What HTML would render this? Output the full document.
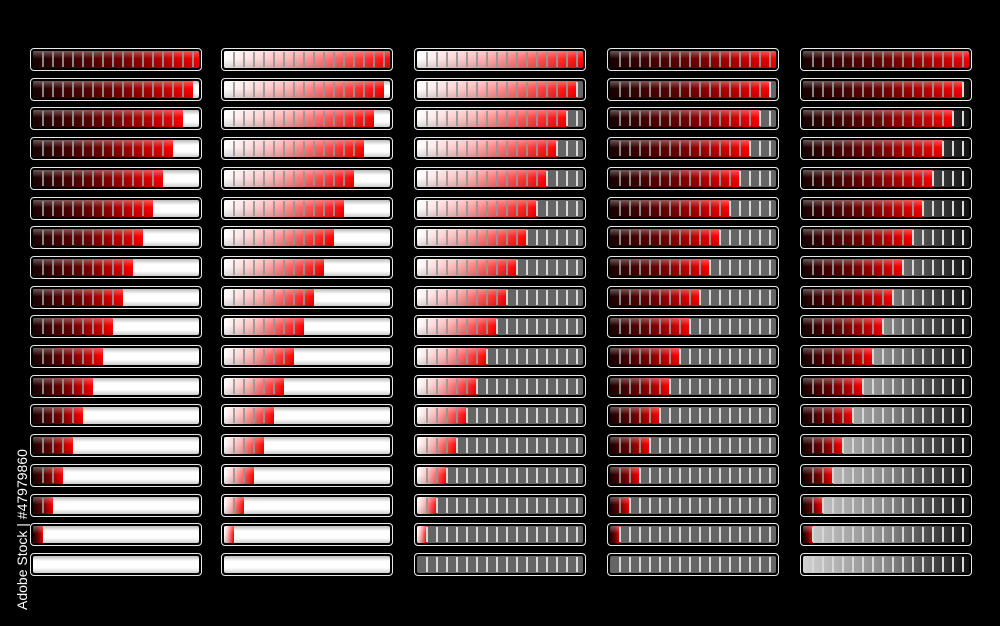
<!DOCTYPE html>
<html><head><style>
html,body{margin:0;padding:0;background:#000;width:1000px;height:626px;overflow:hidden;font-family:"Liberation Sans",sans-serif}
.bar{position:absolute;height:21px;border:1.5px solid #e8e8e8;border-radius:4px;background:#000;box-sizing:content-box}
.in{position:absolute;left:2px;right:2px;top:2px;bottom:2px;border-radius:2px;overflow:hidden}
.fill{position:absolute;left:0;top:0;bottom:0}
.div{position:absolute;top:1px;bottom:1px;width:2px}
.wm{position:absolute;left:14px;color:#fff;font-size:14px;transform:rotate(-90deg);transform-origin:left top;top:610px}
</style></head><body>
<div id="c"></div>
<div class="wm">Adobe Stock | #47979860</div>
<script>
var cols=[30,221,414,607,800];
var c=document.getElementById('c');var h='';
var shade='linear-gradient(180deg,rgba(255,255,255,0.35) 0%,rgba(255,255,255,0) 45%,rgba(0,0,0,0.15) 100%)';
for(var k=0;k<5;k++){
 for(var i=0;i<18;i++){
  var x=cols[k],y=48+i*29.7,n=17-i;
  var empty,fillg;
  if(k<2)empty='linear-gradient(180deg,#bbb,#fff 30%,#fff 70%,#ccc)';
  else if(k<4)empty='#656565';
  else empty='linear-gradient(90deg,#d0d0d0,#888 50%,#111)';
  if(k==1||k==2)fillg='linear-gradient(90deg,#fff,#ffb0b0 40%,#ff0000)';
  else fillg='linear-gradient(90deg,#1a0000,#700000 50%,#ff0000)';
  h+='<div class="bar" style="left:'+x+'px;top:'+y+'px;width:170px"><div class="in" style="background:'+empty+'">';
  if(n>0)h+='<div class="fill" style="width:'+(n*10)+'px;background:'+shade+','+fillg+'"></div>';
  for(var j=1;j<17;j++){
   var col='#d8d8d8';
   if(j<n)col='rgba(150,150,150,0.9)';
   if(k<2&&j>=n)col='rgba(0,0,0,0)';
   h+='<div class="div" style="left:'+(j*10-1)+'px;background:'+col+'"></div>';
  }
  h+='</div></div>';
 }
}
c.innerHTML=h;
</script>
</body></html>
